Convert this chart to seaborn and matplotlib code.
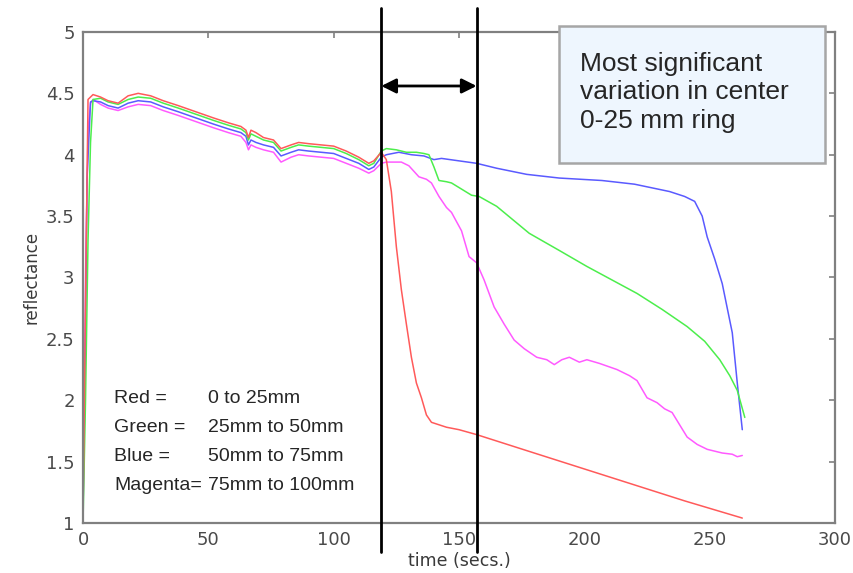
import numpy as np
import pandas as pd
import matplotlib
matplotlib.use("Agg")
import matplotlib.pyplot as plt
from matplotlib.patches import Rectangle
import seaborn as sns

sns.set_style("white")
plt.rcParams['font.family'] = ['DejaVu Sans']

# ---- data (time in s, reflectance) ----
t_red = [0, 1, 2, 4, 7, 10, 14, 18, 22, 27, 32, 38, 45, 52, 58, 63, 65, 66, 67, 69,
         72, 76, 79, 83, 86, 90, 95, 100, 105, 110, 114, 116, 119, 121, 123, 125, 127,
         129, 131, 133, 135, 137, 139, 145, 150, 157, 180, 200, 220, 240, 263]
y_red = [1.05, 2.8, 4.45, 4.49, 4.47, 4.44, 4.42, 4.48, 4.50, 4.48, 4.44, 4.40, 4.35,
         4.30, 4.26, 4.23, 4.20, 4.14, 4.20, 4.18, 4.14, 4.12, 4.05, 4.08, 4.10, 4.09,
         4.08, 4.07, 4.03, 3.98, 3.93, 3.95, 4.02, 3.96, 3.70, 3.25, 2.90, 2.62, 2.35,
         2.14, 2.02, 1.88, 1.82, 1.78, 1.76, 1.72, 1.57, 1.44, 1.31, 1.18, 1.04]

t_green = [0, 1, 2, 3, 4, 7, 10, 14, 18, 22, 27, 32, 38, 45, 52, 58, 63, 65, 66, 67, 69,
           72, 76, 79, 83, 86, 90, 95, 100, 105, 110, 114, 116, 119, 121, 125, 129, 133,
           136, 138, 140, 142, 145, 147, 151, 155, 158, 165, 178, 190, 201, 211, 221, 231,
           241, 248, 254, 258, 261, 264]
y_green = [1.0, 2.0, 3.3, 4.1, 4.45, 4.46, 4.43, 4.41, 4.45, 4.47, 4.46, 4.42, 4.38, 4.33,
           4.28, 4.24, 4.21, 4.18, 4.12, 4.17, 4.15, 4.12, 4.10, 4.03, 4.06, 4.08, 4.07,
           4.06, 4.05, 4.01, 3.96, 3.91, 3.93, 4.03, 4.05, 4.04, 4.02, 4.02, 4.01, 4.00,
           3.90, 3.79, 3.78, 3.77, 3.72, 3.67, 3.66, 3.58, 3.36, 3.22, 3.09, 2.98, 2.87,
           2.74, 2.60, 2.48, 2.33, 2.20, 2.08, 1.86]

t_blue = [0, 1, 1.6, 3, 4, 7, 10, 14, 18, 22, 27, 32, 38, 45, 52, 58, 63, 65, 66, 67, 69,
          72, 76, 79, 83, 86, 90, 95, 100, 105, 110, 114, 116, 119, 121, 126, 131, 136,
          140, 143, 150, 157, 165, 177, 190, 207, 220, 234, 240, 244, 247, 249, 252, 255,
          257, 259, 261, 262, 263]
y_blue = [1.08, 2.5, 3.8, 4.43, 4.44, 4.43, 4.40, 4.38, 4.42, 4.44, 4.43, 4.39, 4.35, 4.30,
          4.25, 4.21, 4.18, 4.15, 4.08, 4.12, 4.10, 4.08, 4.06, 3.99, 4.02, 4.04, 4.03,
          4.02, 4.01, 3.97, 3.93, 3.88, 3.90, 3.98, 4.00, 4.02, 4.00, 3.99, 3.96, 3.97,
          3.95, 3.93, 3.89, 3.84, 3.81, 3.79, 3.76, 3.70, 3.66, 3.62, 3.50, 3.33, 3.15,
          2.95, 2.75, 2.55, 2.14, 1.95, 1.76]

t_magenta = [0, 1, 2, 3, 4, 7, 10, 14, 18, 22, 27, 32, 38, 45, 52, 58, 63, 65, 66, 67, 69,
             72, 76, 79, 83, 86, 90, 95, 100, 105, 110, 114, 116, 119, 121, 127, 130, 134,
             137, 139, 142, 145, 147, 151, 154, 157, 160, 164, 168, 172, 176, 181, 185, 188,
             191, 194, 198, 201, 206, 213, 218, 221, 225, 229, 232, 235, 238, 241, 245, 249,
             255, 259, 261, 263]
y_magenta = [1.15, 3.0, 4.2, 4.42, 4.45, 4.41, 4.38, 4.36, 4.39, 4.41, 4.40, 4.36, 4.32,
             4.27, 4.22, 4.18, 4.15, 4.10, 4.04, 4.08, 4.06, 4.04, 4.02, 3.94, 3.98, 4.00,
             3.99, 3.98, 3.97, 3.93, 3.89, 3.85, 3.87, 3.93, 3.94, 3.94, 3.91, 3.82, 3.80,
             3.77, 3.66, 3.57, 3.53, 3.38, 3.17, 3.12, 2.98, 2.76, 2.62, 2.49, 2.42, 2.35,
             2.33, 2.29, 2.33, 2.35, 2.31, 2.33, 2.30, 2.25, 2.20, 2.16, 2.02, 1.98, 1.93,
             1.90, 1.80, 1.70, 1.64, 1.60, 1.57, 1.56, 1.54, 1.55]

series_names = ['magenta', 'blue', 'green', 'red']
series_colors = {'red': '#ff5a5a', 'green': '#4cee4c', 'blue': '#5a5aff', 'magenta': '#ff5aff'}

window = [119, 157]          # marked time window (s)
arrow_y = 4.56

legend_rows = [("Red =", "0 to 25mm"), ("Green =", "25mm to 50mm"),
               ("Blue =", "50mm to 75mm"), ("Magenta=", "75mm to 100mm")]
note_text = "Most significant\nvariation in center\n0-25 mm ring"

frames = []
for name, t, y in [('red', t_red, y_red), ('green', t_green, y_green),
                   ('blue', t_blue, y_blue), ('magenta', t_magenta, y_magenta)]:
    frames.append(pd.DataFrame({'time': t, 'reflectance': y, 'ring': name}))
df = pd.concat(frames, ignore_index=True)

fig = plt.figure(figsize=(8.54, 5.73), dpi=100)
ax = fig.add_axes([0.0972, 0.0873, 0.8806, 0.8569])

sns.lineplot(data=df, x='time', y='reflectance', hue='ring', hue_order=series_names,
             palette=series_colors, estimator=None, sort=False, linewidth=1.1,
             legend=False, ax=ax)

ax.set_xlim(0, 300)
ax.set_ylim(1, 5)
ax.set_xticks(np.arange(0, 301, 50))
ax.set_yticks(np.arange(1, 5.01, 0.5))
ax.set_yticklabels(['1', '1.5', '2', '2.5', '3', '3.5', '4', '4.5', '5'])

grey = '#808080'
for s in ax.spines.values():
    s.set_color(grey)
    s.set_linewidth(1.6)
    s.set_visible(True)
ax.tick_params(direction='in', length=4, width=1.2, color=grey, top=True, right=True,
               labelsize=13, labelcolor='#4a4a4a', pad=6)
ax.set_xlabel('time (secs.)', fontsize=12.5, color='#3a3a3a', labelpad=2)
ax.set_ylabel('reflectance', fontsize=12, color='#3a3a3a', labelpad=4)

# window markers extending past the axes
for xv in window:
    ax.axvline(xv, ymin=-0.059, ymax=1.049, color='black', lw=2, clip_on=False, zorder=5)
ax.annotate('', xy=(window[0], arrow_y), xytext=(window[1], arrow_y),
            arrowprops=dict(arrowstyle='<|-|>', color='black', lw=2, mutation_scale=22,
                            shrinkA=0, shrinkB=0), zorder=6)

narrow = ['Liberation Sans']

# note box
ax.add_patch(Rectangle((0.633, 0.733), 0.354, 0.279, transform=ax.transAxes,
                       facecolor='#eef6fe', edgecolor='#a6a6a6', lw=1.8,
                       clip_on=False, zorder=7))
ax.text(0.661, 0.96, note_text, transform=ax.transAxes, ha='left', va='top',
        fontsize=19, family=narrow, linespacing=1.25, zorder=8)

# ring legend written as text
for i, (lab, rng) in enumerate(legend_rows):
    yy = 2.01 - i * 0.235
    ax.text(12.4, yy, lab, ha='left', va='center', fontsize=14, family=narrow)
    ax.text(49.8, yy, rng, ha='left', va='center', fontsize=14, family=narrow)

fig.savefig('out.png', dpi=100)
